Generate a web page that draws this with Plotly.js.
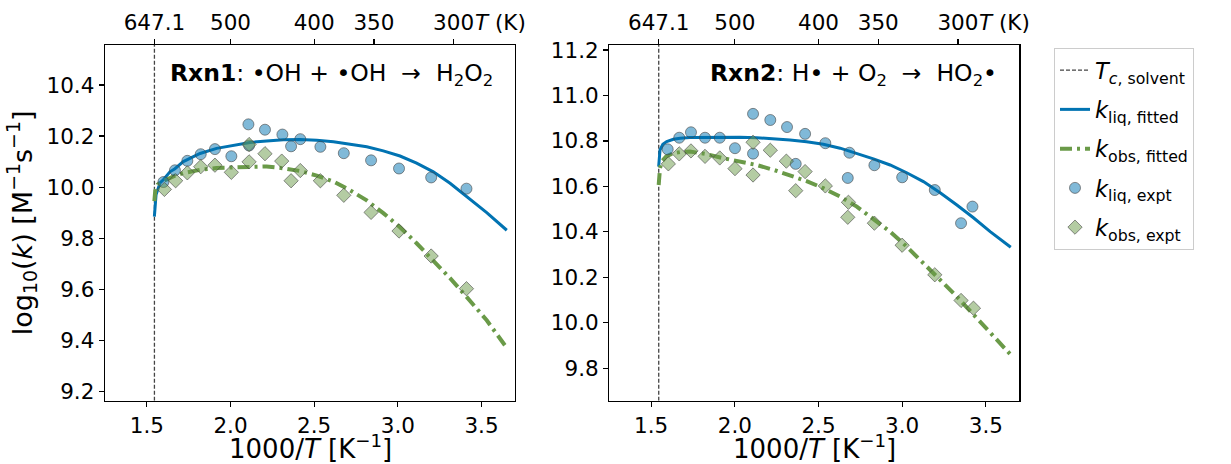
<!DOCTYPE html>
<html>
<head>
<meta charset="utf-8">
<script src="https://cdn.plot.ly/plotly-3.0.1.min.js"></script>
<style>html,body{margin:0;padding:0;background:#fff;}#chart{width:1231px;height:464px;}</style>
</head>
<body>
<div id="chart"></div>
<script>
// ---------- data ----------
const T_CRIT = 647.1; // K
const topTickTemps = [647.1, 500, 400, 350, 300];
const topTickLabels = ['647.1', '500', '400', '350', '300'];

// Rxn1 : •OH + •OH -> H2O2
const r1_fit_x = [1.545,1.555,1.579,1.600,1.638,1.668,1.718,1.818,1.917,2.017,2.116,2.216,2.316,2.416,2.515,2.615,2.714,2.814,2.913,3.013,3.112,3.212,3.312,3.412,3.531,3.651];
const r1_liq_fit = [9.884,9.970,10.017,10.030,10.060,10.072,10.100,10.132,10.152,10.165,10.175,10.181,10.186,10.187,10.184,10.178,10.169,10.158,10.142,10.122,10.094,10.060,10.015,9.962,9.900,9.831];
const r1_obs_fit_x = [1.545,1.550,1.565,1.590,1.619,1.668,1.718,1.818,1.917,2.017,2.116,2.216,2.316,2.416,2.515,2.615,2.714,2.814,2.913,3.013,3.112,3.212,3.312,3.412,3.531,3.651];
const r1_obs_fit = [9.945,9.985,10.010,10.022,10.030,10.045,10.055,10.068,10.075,10.078,10.080,10.081,10.074,10.063,10.045,10.022,9.988,9.948,9.898,9.843,9.780,9.713,9.643,9.569,9.478,9.370];
const r1_liq_x = [1.599,1.668,1.742,1.822,1.907,2.005,2.111,2.107,2.206,2.310,2.417,2.362,2.537,2.677,2.840,3.007,3.199,3.410];
const r1_liq_y = [10.020,10.066,10.103,10.129,10.149,10.121,10.163,10.246,10.225,10.206,10.188,10.160,10.158,10.133,10.105,10.073,10.038,9.994];
const r1_obs_x = [1.605,1.672,1.742,1.822,1.907,2.005,2.111,2.111,2.206,2.306,2.362,2.417,2.537,2.677,2.840,3.007,3.199,3.410];
const r1_obs_y = [9.991,10.025,10.056,10.080,10.086,10.058,10.099,10.167,10.131,10.102,10.025,10.065,10.025,9.968,9.901,9.828,9.730,9.602];

// Rxn2 : H• + O2 -> HO2•
const r2_fit_x = [1.545,1.553,1.570,1.593,1.633,1.673,1.732,1.831,1.931,2.031,2.131,2.230,2.330,2.429,2.529,2.629,2.729,2.828,2.928,3.027,3.127,3.227,3.327,3.426,3.526,3.649];
const r2_liq_fit = [10.687,10.760,10.785,10.797,10.807,10.812,10.815,10.816,10.816,10.816,10.814,10.810,10.804,10.796,10.785,10.768,10.746,10.721,10.694,10.660,10.621,10.572,10.518,10.462,10.401,10.332];
const r2_obs_fit_x = [1.545,1.553,1.563,1.590,1.633,1.683,1.732,1.831,1.931,2.031,2.131,2.230,2.330,2.429,2.529,2.629,2.729,2.828,2.928,3.027,3.127,3.227,3.327,3.426,3.526,3.649];
const r2_obs_fit = [10.606,10.680,10.709,10.732,10.746,10.752,10.753,10.742,10.724,10.710,10.694,10.673,10.650,10.623,10.592,10.555,10.511,10.458,10.401,10.335,10.262,10.190,10.115,10.036,9.954,9.859];
const r2_liq_x = [1.599,1.668,1.738,1.822,1.910,2.001,2.109,2.109,2.212,2.312,2.364,2.420,2.541,2.685,2.675,2.834,3.000,3.195,3.352,3.420];
const r2_liq_y = [10.763,10.814,10.838,10.814,10.814,10.768,10.919,10.744,10.892,10.861,10.699,10.831,10.790,10.748,10.637,10.693,10.640,10.584,10.438,10.511];
const r2_obs_x = [1.603,1.668,1.738,1.822,1.910,2.001,2.109,2.109,2.212,2.308,2.364,2.420,2.541,2.679,2.675,2.834,3.000,3.195,3.352,3.426];
const r2_obs_y = [10.699,10.743,10.756,10.732,10.725,10.678,10.794,10.650,10.759,10.711,10.581,10.665,10.602,10.530,10.464,10.438,10.341,10.211,10.098,10.064];

const xRange = [1.25, 3.7];
const y1Range = [9.163, 10.557];
const y2Range = [9.657, 11.222];

// ---------- styles ----------
const FONT = 'DejaVu Sans, sans-serif';
const BLUE = '#0173b2';
const GREEN = '#6a9a48';
const W = 1231, H = 464;
const px2fx = p => p / W;
const py2fy = p => (H - p) / H;

const invT = T => 1000 / T;
const tc = invT(T_CRIT);

function panel(xa, ya, yr, fx, liqFit, ofx, obsFit, lx, ly, ox, oy, showleg) {
  return [
    {x: [tc, tc], y: yr, xaxis: xa, yaxis: ya, mode: 'lines', name: '<i>T</i><sub><i>c</i>, solvent</sub>',
     line: {color: '#444', width: 1.3, dash: '4px,2px'}, showlegend: showleg, legendgroup: 'a'},
    {x: fx, y: liqFit, xaxis: xa, yaxis: ya, mode: 'lines', name: '<i>k</i><sub>liq, fitted</sub>',
     line: {color: BLUE, width: 3}, showlegend: showleg, legendgroup: 'b'},
    {x: ofx, y: obsFit, xaxis: xa, yaxis: ya, mode: 'lines', name: '<i>k</i><sub>obs, fitted</sub>',
     line: {color: GREEN, width: 4, dash: '12px,5px,3px,5px'}, showlegend: showleg, legendgroup: 'c'},
    {x: lx, y: ly, xaxis: xa, yaxis: ya, mode: 'markers', name: '<i>k</i><sub>liq, expt</sub>',
     marker: {symbol: 'circle', size: 11, color: 'rgba(1,115,178,0.5)', line: {color: 'rgba(70,70,70,0.6)', width: 1}},
     showlegend: showleg, legendgroup: 'd'},
    {x: ox, y: oy, xaxis: xa, yaxis: ya, mode: 'markers', name: '<i>k</i><sub>obs, expt</sub>',
     marker: {symbol: 'diamond', size: 11, color: 'rgba(106,154,72,0.5)', line: {color: 'rgba(70,70,70,0.6)', width: 1}},
     showlegend: showleg, legendgroup: 'e'}
  ];
}

const data = [
  ...panel('x', 'y', y1Range, r1_fit_x, r1_liq_fit, r1_obs_fit_x, r1_obs_fit, r1_liq_x, r1_liq_y, r1_obs_x, r1_obs_y, true),
  ...panel('x2', 'y2', y2Range, r2_fit_x, r2_liq_fit, r2_obs_fit_x, r2_obs_fit, r2_liq_x, r2_liq_y, r2_obs_x, r2_obs_y, false)
];

const tickFont = {family: FONT, size: 21.5, color: '#000'};
const titleFont = {family: FONT, size: 27, color: '#000'};
const xTitleFont = {family: FONT, size: 26, color: '#000'};

function xaxisBottom(dom, anchor) {
  return {domain: dom, anchor: anchor, range: xRange, tickvals: [1.5, 2.0, 2.5, 3.0, 3.5], ticktext: ['1.5','2.0','2.5','3.0','3.5'],
    ticks: 'outside', ticklen: 5, tickwidth: 1.2, tickcolor: '#000', showline: true, mirror: true, linecolor: '#000', linewidth: 1.3,
    showgrid: false, zeroline: false, tickfont: tickFont};
}
function xaxisTop(overlay, anchor) {
  return {overlaying: overlay, anchor: anchor, side: 'top', range: xRange,
    tickvals: topTickTemps.map(invT), ticktext: topTickLabels,
    ticks: 'outside', ticklen: 5, tickwidth: 1.2, tickcolor: '#000', showline: false, showgrid: false, zeroline: false, tickfont: tickFont};
}
function yaxis(dom, anchor, yr, tv) {
  return {domain: dom, anchor: anchor, range: yr, tickvals: tv, ticktext: tv.map(v => v.toFixed(1)),
    ticks: 'outside', ticklen: 5, tickwidth: 1.2, tickcolor: '#000', showline: true, mirror: true, linecolor: '#000', linewidth: 1.3,
    showgrid: false, zeroline: false, tickfont: tickFont};
}

const yDom = [py2fy(400.7), py2fy(45)];
const x1Dom = [px2fx(105), px2fx(515)];
const x2Dom = [px2fx(609.3), px2fx(1019.3)];

const NB = '\u00a0';
const xTitle = '1000/<i>T</i> [K<sup>−1</sup>]';
const layout = {
  width: W, height: H,
  margin: {l: 0, r: 0, t: 0, b: 0},
  paper_bgcolor: '#fff', plot_bgcolor: '#fff',
  font: {family: FONT, color: '#000'},
  showlegend: true,
  legend: {x: px2fx(1054), y: py2fy(48), xanchor: 'left', yanchor: 'top',
    font: {family: FONT, size: 22.5, color: '#000'}, bordercolor: '#cccccc', borderwidth: 1, bgcolor: '#fff',
    tracegroupgap: 7},
  xaxis: xaxisBottom(x1Dom, 'y'),
  xaxis2: xaxisBottom(x2Dom, 'y2'),
  xaxis3: xaxisTop('x', 'y'),
  xaxis4: xaxisTop('x2', 'y2'),
  yaxis: Object.assign(yaxis(yDom, 'x', y1Range, [9.2, 9.4, 9.6, 9.8, 10.0, 10.2, 10.4]),
    {title: {text: 'log<sub>10</sub>(<i>k</i>) [M<sup>−1</sup>s<sup>−1</sup>]', font: titleFont, standoff: 6}}),
  yaxis2: yaxis(yDom, 'x2', y2Range, [9.8, 10.0, 10.2, 10.4, 10.6, 10.8, 11.0, 11.2]),
  annotations: [
    {xref: 'x domain', yref: 'paper', x: 0.5, y: py2fy(447), xanchor: 'center', yanchor: 'middle', showarrow: false,
     text: xTitle, font: xTitleFont},
    {xref: 'x2 domain', yref: 'paper', x: 0.5, y: py2fy(447), xanchor: 'center', yanchor: 'middle', showarrow: false,
     text: xTitle, font: xTitleFont},
    {xref: 'x domain', yref: 'y domain', x: 0.95, y: 0.916, xanchor: 'right', yanchor: 'middle', showarrow: false,
     text: '<b>Rxn1</b>: •OH + •OH' + NB + NB + '→' + NB + NB + 'H<sub>2</sub>O<sub>2</sub>', font: {family: FONT, size: 23.5, color: '#000'}},
    {xref: 'x2 domain', yref: 'y2 domain', x: 0.95, y: 0.916, xanchor: 'right', yanchor: 'middle', showarrow: false,
     text: '<b>Rxn2</b>: H• + O<sub>2</sub>' + NB + NB + '→' + NB + NB + 'HO<sub>2</sub>•', font: {family: FONT, size: 23.5, color: '#000'}},
    {xref: 'x domain', yref: 'paper', x: 1, xshift: -42, y: py2fy(23), xanchor: 'left', yanchor: 'middle', showarrow: false,
     text: '<i>T</i> (K)', font: {family: FONT, size: 21.5, color: '#000'}},
    {xref: 'x2 domain', yref: 'paper', x: 1, xshift: -42, y: py2fy(23), xanchor: 'left', yanchor: 'middle', showarrow: false,
     text: '<i>T</i> (K)', font: {family: FONT, size: 21.5, color: '#000'}}
  ]
};

// top axes need a trace to render ticks
data.push({x: [xRange[0]], y: [y1Range[0]], xaxis: 'x3', yaxis: 'y', mode: 'markers', marker: {opacity: 0}, showlegend: false, hoverinfo: 'skip'});
data.push({x: [xRange[0]], y: [y2Range[0]], xaxis: 'x4', yaxis: 'y2', mode: 'markers', marker: {opacity: 0}, showlegend: false, hoverinfo: 'skip'});

Plotly.newPlot('chart', data, layout, {displayModeBar: false, staticPlot: true});
</script>
</body>
</html>
